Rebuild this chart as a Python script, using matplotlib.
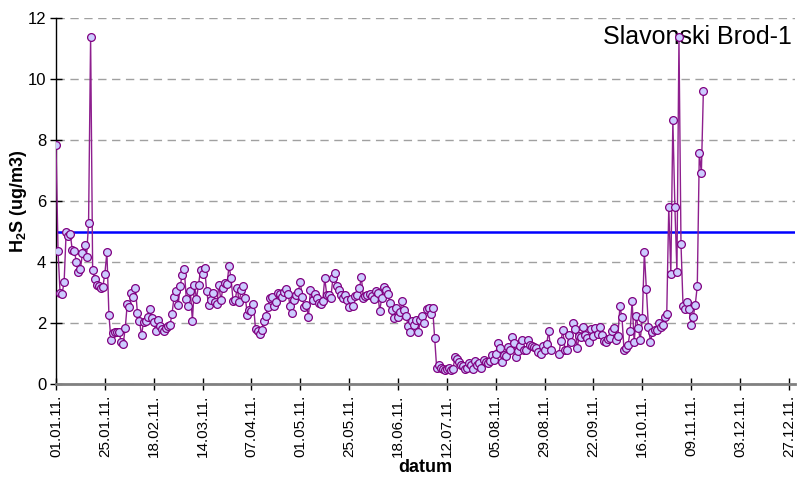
import numpy as np
import pandas as pd
import matplotlib
matplotlib.use("Agg")
import matplotlib.pyplot as plt
import matplotlib.dates as mdates

# -------------------------------
# data (daily H2S, Slavonski Brod-1, 2011)
# -------------------------------
start_date = "2011-01-01"
station = "Slavonski Brod-1"
limit_value = 5

h2s = [
    # jan - feb
    7.85, 4.36, 2.98, 2.95, 3.36, 5.0, 4.85, 4.92, 4.39, 4.37,
    4.0, 3.68, 3.77, 4.29, 4.56, 4.16, 5.29, 11.37, 3.75, 3.44,
    3.25, 3.22, 3.16, 3.18, 3.62, 4.32, 2.26, 1.44, 1.66, 1.72,
    1.70, 1.70, 1.38, 1.31, 1.83, 2.62, 2.52, 3.0, 2.85, 3.15,
    2.33, 2.07, 1.6, 2.03, 2.07, 2.2, 2.45, 2.17, 2.03, 1.74,
    # feb - apr
    2.1, 1.9, 1.8, 1.75, 1.84, 1.89, 1.93, 2.31, 2.86, 3.06,
    2.58, 3.22, 3.58, 3.78, 2.78, 2.56, 3.04, 2.08, 3.25, 2.79,
    3.25, 3.74, 3.62, 3.81, 3.04, 2.6, 2.74, 2.99, 2.68, 2.62,
    3.25, 2.74, 3.15, 3.32, 3.27, 3.88, 3.46, 2.71, 2.74, 3.16,
    2.68, 3.07, 3.21, 2.82, 2.27, 2.44, 2.4, 2.61, 1.8, 1.74, 1.64,
    # apr - may
    1.77, 2.07, 2.24, 2.52, 2.81, 2.84, 2.57, 2.7, 2.98, 2.96,
    2.86, 3.03, 3.13, 2.95, 2.55, 2.33, 2.77, 2.91, 3.03, 3.34,
    2.84, 2.51, 2.6, 2.19, 3.09, 2.77, 2.96, 2.82, 2.66, 2.63,
    2.72, 3.46, 2.93, 2.92, 2.83, 3.46, 3.63, 3.22, 3.09, 2.91,
    2.81, 2.93, 2.77, 2.54, 2.8, 2.55, 2.9, 2.91, 3.14, 3.5,
    # jun - jul
    2.82, 2.87, 2.92, 2.94, 2.9, 2.79, 3.06, 2.98, 2.4, 2.82,
    3.17, 3.09, 2.96, 2.66, 2.44, 2.17, 2.5, 2.19, 2.35, 2.73,
    2.44, 2.22, 1.89, 1.7, 2.05, 1.95, 2.11, 1.7, 2.11, 2.22,
    2.0, 2.46, 2.5, 2.31, 2.5, 1.52,
    # jul - aug
    0.51, 0.61, 0.51, 0.5, 0.47, 0.5, 0.52, 0.45, 0.5, 0.88,
    0.82, 0.71, 0.63, 0.58, 0.5, 0.52, 0.69, 0.62, 0.5, 0.74,
    0.63, 0.69, 0.52, 0.8, 0.71, 0.68, 0.74, 0.94, 0.8, 1.0,
    1.34, 1.18, 0.71, 0.96, 0.91, 1.21, 1.1, 1.54, 1.34, 0.89,
    1.07, 1.23, 1.45, 1.13, 1.1, 1.45, 1.29, 1.23, 1.2, 1.18,
    1.04, 1.0, 1.23, 1.13, 1.32, 1.73, 1.13,
    # missing days
    np.nan, np.nan, np.nan,
    # sep - oct
    0.98, 1.42, 1.76, 1.13, 1.13, 1.61, 1.37, 2.0, 1.81, 1.18,
    1.56, 1.54, 1.88, 1.62, 1.5, 1.39, 1.8, 1.56, 1.82, 1.63,
    1.88, 1.62, 1.4, 1.39, 1.48, 1.52, 1.73, 1.85, 1.45, 1.56,
    2.55, 2.19, 1.13, 1.18, 1.28, 1.73, 2.71, 1.37, 2.22, 1.84,
    1.45, 2.16,
    # oct - nov
    4.32, 3.13, 1.88, 1.38, 1.71, 1.78, 1.76, 1.99, 1.88, 1.93,
    2.2, 2.29, 5.8, 3.61, 8.65, 5.8, 3.68, 11.37, 4.59, 2.56,
    2.47, 2.7, 2.47, 1.93, 2.2, 2.6, 3.21, 7.59, 6.92, 9.62,
]

dates = pd.date_range(start_date, periods=len(h2s), freq="D")
tick_dates = pd.date_range("2011-01-01", "2011-12-27", freq="24D")

# -------------------------------
# plot
# -------------------------------
plt.rcParams["font.family"] = ["Liberation Sans", "DejaVu Sans"]
plt.rcParams["mathtext.fontset"] = "custom"
plt.rcParams["mathtext.rm"] = "Liberation Sans"
plt.rcParams["mathtext.bf"] = "Liberation Sans:bold"

fig = plt.figure(figsize=(8.04, 4.83), dpi=100)
ax = fig.add_axes([56 / 804, 1 - 384 / 483, 739 / 804, 366 / 483])

ax.axhline(limit_value, color="#0000FF", lw=1.8, zorder=2)
ax.plot(dates, h2s, color="#8E1F8E", lw=1.0, marker="o", markersize=5.6,
        markerfacecolor="#CCCCFF", markeredgecolor="#800080",
        markeredgewidth=0.9, zorder=3)

ax.set_ylim(0, 12)
ax.set_yticks(range(0, 13, 2))
ax.set_xlim(pd.Timestamp("2011-01-01"), pd.Timestamp("2011-12-30"))
ax.set_xticks(tick_dates)
ax.xaxis.set_major_formatter(mdates.DateFormatter("%d.%m.%y."))
plt.setp(ax.get_xticklabels(), rotation=90)

ax.grid(axis="y", color="#A0A0A0", linestyle=(0, (6, 4)), lw=1)
ax.set_axisbelow(True)

for s in ["top", "right"]:
    ax.spines[s].set_visible(False)
ax.spines["left"].set_color("black")
ax.spines["left"].set_linewidth(1)
ax.spines["bottom"].set_color("#808080")
ax.spines["bottom"].set_linewidth(2)

ax.tick_params(axis="y", direction="inout", length=8, width=1,
               labelsize=12, pad=3)
ax.tick_params(axis="x", direction="inout", length=8, width=1,
               labelsize=11, pad=4)

ax.set_ylabel(r"$\mathbf{H_2S}$ (ug/m3)", fontsize=13, fontweight="bold",
              labelpad=-1)
ax.set_xlabel("datum", fontsize=13, fontweight="bold", labelpad=1)

ax.text(0.74, 0.928, station, transform=ax.transAxes, fontsize=18,
        va="baseline", ha="left", zorder=1)

fig.savefig("out.png", dpi=100)
